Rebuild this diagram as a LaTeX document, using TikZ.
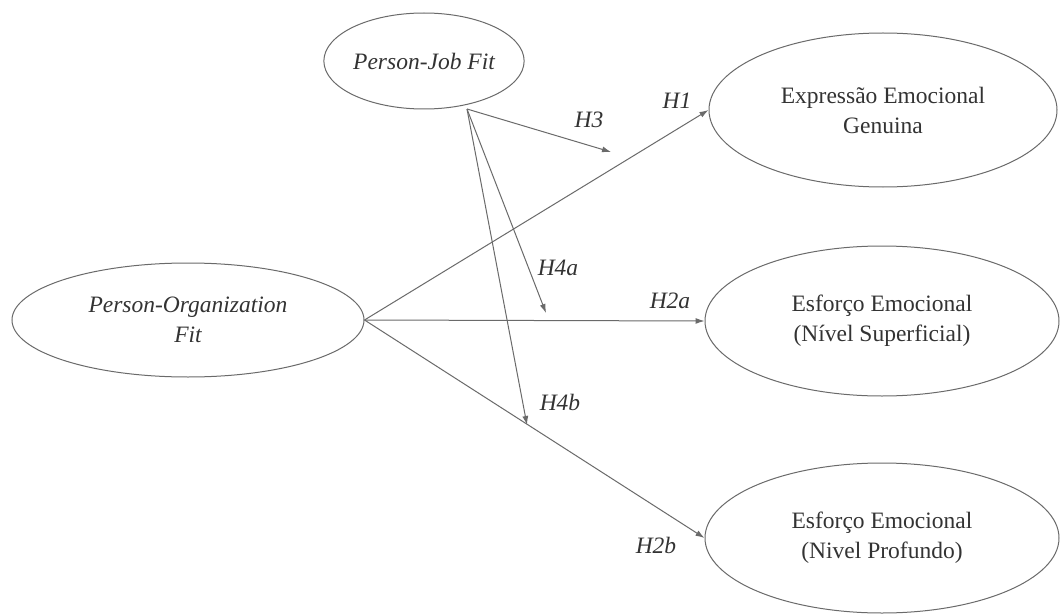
\documentclass[tikz,border=0pt]{standalone}
\usepackage{fontspec}
\setmainfont{Liberation Serif}
\usetikzlibrary{shapes.geometric,arrows.meta}
\definecolor{linec}{HTML}{6A6A6A}
\definecolor{textc}{HTML}{333333}
\tikzset{
  construct/.style={ellipse, draw=linec, line width=1pt, inner sep=0pt, align=center, text=textc,
    font=\fontsize{23.5}{30}\selectfont},
  path/.style={draw=linec, line width=1pt, -{Latex[length=9pt,width=6pt]}},
  hyp/.style={text=textc, font=\fontsize{23.5}{28}\selectfont\itshape, inner sep=0pt}
}
\begin{document}
\begin{tikzpicture}[x=1pt,y=-1pt]
\useasboundingbox (0,0) rectangle (1060,615);
\fill[white] (0,0) rectangle (1060,615);
% constructs
\node[construct, minimum width=188pt, minimum height=96pt] (pj) at (424,61) {\itshape Person-Job Fit};
\node[construct, minimum width=352pt, minimum height=114pt] (po) at (188,320) {\itshape Person-Organization\\\itshape Fit};
\node[construct, minimum width=348pt, minimum height=154pt] (ex) at (883,110) {Expressão Emocional\\Genuina};
\node[construct, minimum width=354pt, minimum height=150pt] (sup) at (882,321) {Esforço Emocional\\(Nível Superficial)};
\node[construct, minimum width=354pt, minimum height=150pt] (prof) at (882,538) {Esforço Emocional\\(Nivel Profundo)};
% free ends
\coordinate (pjs) at (467,109);
\coordinate (h3end) at (611,152);
\coordinate (h4aend) at (546,313);
\coordinate (h4bend) at (527,425);
% paths
\draw[path] (po.east) -- (ex.west);
\draw[path] (po.east) -- (sup.west);
\draw[path] (po.east) -- (prof.west);
\draw[path] (pjs) -- (h3end);
\draw[path] (pjs) -- (h4aend);
\draw[path] (pjs) -- (h4bend);
% labels
\node[hyp] (lh1) at (677,101) {H1};
\node[hyp] (lh3) at (589,120) {H3};
\node[hyp] (lh4a) at (558,268) {H4a};
\node[hyp] (lh2a) at (670,301) {H2a};
\node[hyp] (lh4b) at (560,402) {H4b};
\node[hyp] (lh2b) at (656,545) {H2b};
\end{tikzpicture}
\end{document}
